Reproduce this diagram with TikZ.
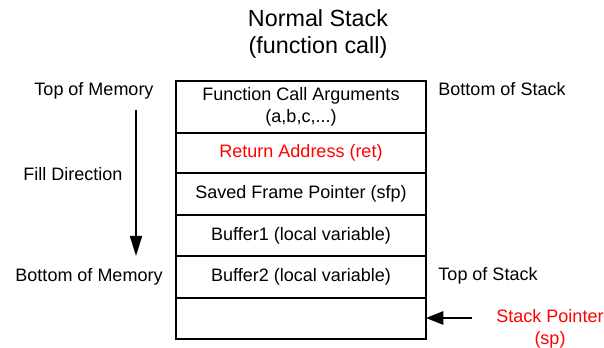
\documentclass[tikz,border=0pt]{standalone}
\usepackage{fontspec}
\setmainfont{Liberation Sans}
\usepackage{tikz}
\usetikzlibrary{arrows.meta,positioning}

\begin{document}
\begin{tikzpicture}[
    x=0.75pt,y=-0.75pt,
    every node/.style={font=\fontsize{13.5}{17}\selectfont,align=center,inner sep=0pt},
    cell/.style={draw=black,line width=1pt,outer sep=0pt,minimum width=250*0.75pt,inner sep=2pt},
    arrow/.style={-{Triangle[length=15pt,width=9pt]},line width=1.2pt},
    sparrow/.style={-{Triangle[length=13pt,width=10pt]},line width=1.2pt}
]
\useasboundingbox (0,0) rectangle (604,348);

\node[font=\fontsize{17.5}{20.5}\selectfont] (title) at (318,34) {Normal Stack\\(function call)};

% the stack, top to bottom
\node[cell,minimum height=52*0.75pt] (args) at (301,107) {Function Call Arguments\\(a,b,c,...)};
\node[cell,minimum height=40*0.75pt,below=0pt of args,text=red] (ret) {Return Address (ret)};
\node[cell,minimum height=42*0.75pt,below=0pt of ret] (sfp) {Saved Frame Pointer (sfp)};
\node[cell,minimum height=41*0.75pt,below=0pt of sfp] (buf1) {Buffer1 (local variable)};
\node[cell,minimum height=42*0.75pt,below=0pt of buf1] (buf2) {Buffer2 (local variable)};
\node[cell,minimum height=41*0.75pt,below=0pt of buf2] (free) {};

% memory side
\node (topmem) at (94,91) {Top of Memory};
\node (filldir) at (73,174) {Fill Direction};
\node (botmem) at (89,277) {Bottom of Memory};
\coordinate (fillstart) at (136,110);
\coordinate (fillend) at (136,256);
\draw[arrow] (fillstart) -- (fillend);

% stack side
\node (botstack) at (502,89) {Bottom of Stack};
\node (topstack) at (488,276) {Top of Stack};
\node[text=red] (sp) at (550,329) {Stack Pointer\\(sp)};
\coordinate (spstart) at (472,318);
\draw[sparrow] (spstart) -- (spstart -| free.east);
\end{tikzpicture}
\end{document}
